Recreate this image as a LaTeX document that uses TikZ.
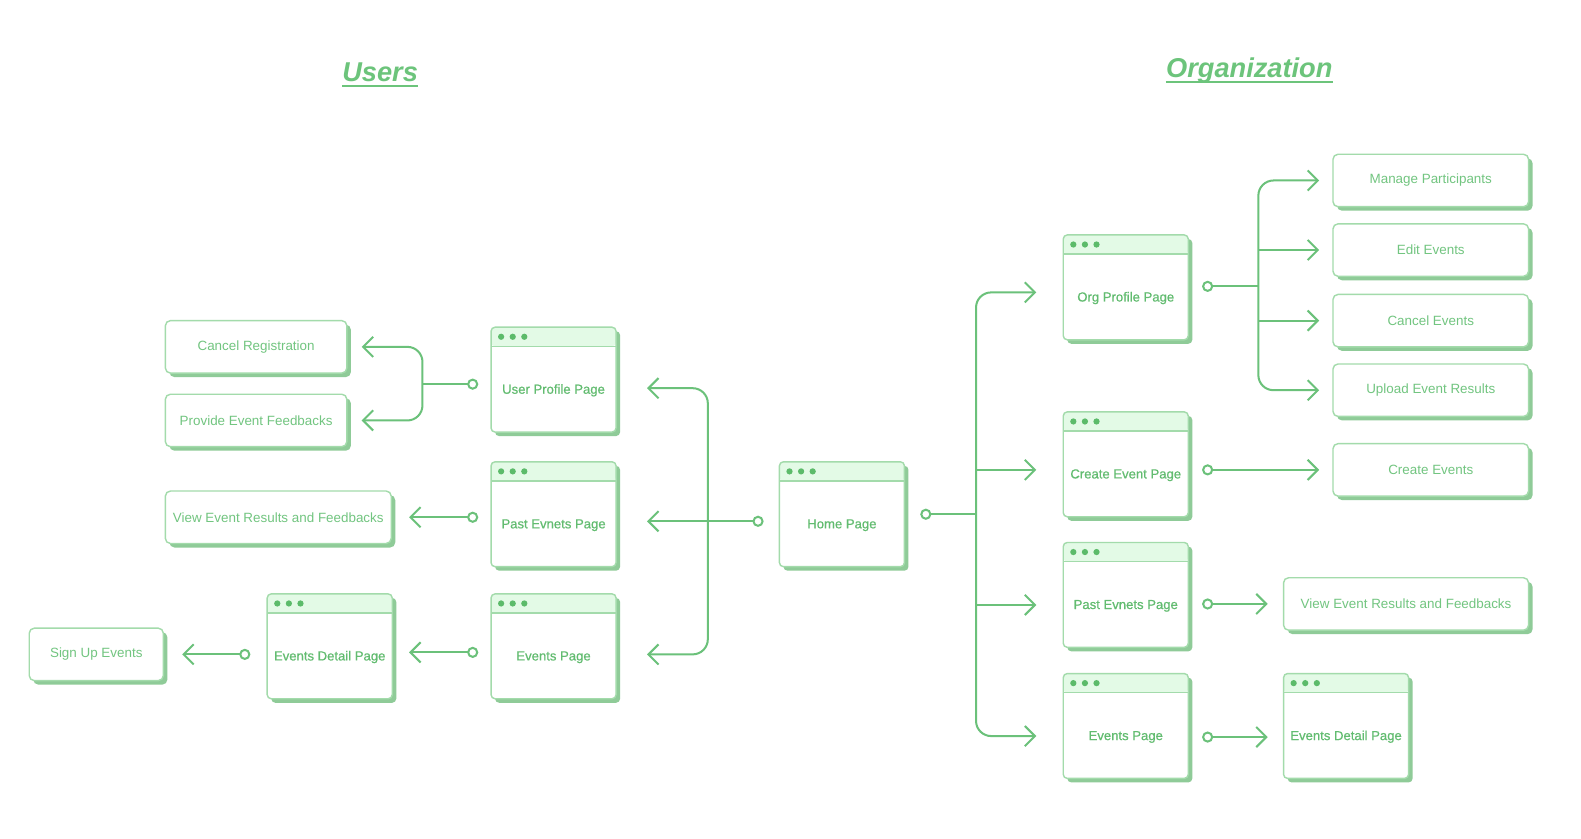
\documentclass[tikz,border=0pt]{standalone}
\usepackage{fontspec}
\setmainfont{Liberation Sans}
\newfontfamily\pagefont[FakeBold=0.6]{Liberation Sans}
\usetikzlibrary{arrows.meta,shadows}

\definecolor{lineg}{HTML}{6BC17A}
\definecolor{borderg}{HTML}{A3DBAB}
\definecolor{shadowg}{HTML}{8FCB98}
\definecolor{headg}{HTML}{E3FAE6}
\definecolor{textg}{HTML}{72C580}
\definecolor{pageg}{HTML}{62BC70}
\definecolor{dotg}{HTML}{5CBB6A}
\definecolor{titleg}{HTML}{6CC47B}

\tikzset{
  boxshadow/.style={drop shadow={shadow xshift=4pt,shadow yshift=-4pt,fill=shadowg,opacity=1}},
  act/.style={draw=borderg, line width=1.4pt, fill=white, rounded corners=5pt,
    minimum height=52pt, text=textg, font=\fontsize{13.3}{16}\selectfont, boxshadow},
  page/.style={draw=borderg, line width=1.4pt, fill=white, rounded corners=4pt,
    minimum width=124pt, minimum height=104pt, inner sep=0pt,
    text=pageg, font=\pagefont\fontsize{13}{15}\selectfont,
    text height=28pt, text depth=0pt, boxshadow,
    path picture={
      \fill[headg] (path picture bounding box.north west) rectangle
        ([yshift=-19pt]path picture bounding box.north east);
      \draw[borderg, line width=1.4pt] ([yshift=-19pt]path picture bounding box.north west)
        -- ([yshift=-19pt]path picture bounding box.north east);
      \foreach \dx in {10,21.5,33}
        \fill[dotg] ([xshift=\dx pt,yshift=-9.5pt]path picture bounding box.north west) circle (3.1pt);
    }},
  wire/.style={draw=lineg, line width=2pt},
  link/.style={wire, arrows={Circle[open,fill=white,length=11pt]-Straight Barb[length=10pt,width=20pt]}},
  fromlink/.style={wire, arrows={Circle[open,fill=white,length=11pt]-}},
  tolink/.style={wire, arrows={-Straight Barb[length=10pt,width=20pt]}},
  twolink/.style={wire, rounded corners=15pt,
    arrows={Straight Barb[length=10pt,width=20pt]-Straight Barb[length=10pt,width=20pt]}},
  heading/.style={inner sep=0pt, anchor=base, text=titleg,
    font=\fontsize{27}{32}\selectfont\bfseries\itshape},
  headline/.style={draw=titleg, line width=1.8pt},
}

\begin{document}
\begin{tikzpicture}[x=1pt,y=-1pt]

  \path[use as bounding box, fill=white] (0,0) rectangle (1568,832);

  % titles
  \node[heading] (users) at (377,81) {Users};
  \node[heading] (org)   at (1239,77) {Organization};
  \draw[headline] ([yshift=-4pt]users.base west) -- ([yshift=-4pt]users.base east);
  \draw[headline] ([yshift=-4pt]org.base west) -- ([yshift=-4pt]org.base east);

  % pages
  \node[page] (home)    at (835,510)    {Home Page};
  \node[page] (uprof)   at (549,376.5)  {User Profile Page};
  \node[page] (upast)   at (549,510)    {Past Evnets Page};
  \node[page] (uevents) at (549,641)    {Events Page};
  \node[page] (udetail) at (327,641)    {Events Detail Page};
  \node[page] (oprof)   at (1116.5,285) {Org Profile Page};
  \node[page] (ocreate) at (1116.5,460.5) {Create Event Page};
  \node[page] (opast)   at (1116.5,590) {Past Evnets Page};
  \node[page] (oevents) at (1116.5,720) {Events Page};
  \node[page] (odetail) at (1335,720)   {Events Detail Page};

  % actions
  \node[act, minimum width=180] (cancelreg) at (254,344)   {Cancel Registration};
  \node[act, minimum width=180] (feedback)  at (254,417)   {Provide Event Feedbacks};
  \node[act, minimum width=224] (uviewres)  at (276,513)   {View Event Results and Feedbacks};
  \node[act, minimum width=133] (signup)    at (95.5,649)  {Sign Up Events};
  \node[act, minimum width=194] (manage)    at (1419,179)  {Manage Participants};
  \node[act, minimum width=194] (edit)      at (1419,248)  {Edit Events};
  \node[act, minimum width=194] (cancelev)  at (1419,318)  {Cancel Events};
  \node[act, minimum width=194] (upload)    at (1419,387)  {Upload Event Results};
  \node[act, minimum width=194] (createev)  at (1419,466)  {Create Events};
  \node[act, minimum width=243] (oviewres)  at (1394.5,599) {View Event Results and Feedbacks};

  % junctions
  \coordinate (jl) at (702,517);
  \coordinate (jr) at (968,510);
  \coordinate (jp) at (419,381);
  \coordinate (jo) at (1248,284);

  % users side
  \draw[link] ([xshift=-15pt]home.west |- jl) -- ([xshift=30pt]upast.east |- jl);
  \draw[twolink] ([xshift=30pt,yshift=-8.5pt]uprof.east) -| (jl) |- ([xshift=30pt,yshift=-8pt]uevents.east);

  \draw[fromlink] ([xshift=-12pt]uprof.west |- jp) -- (jp);
  \draw[twolink] ([xshift=14pt]cancelreg.east) -| (jp) |- ([xshift=14pt]feedback.east);

  \draw[link] ([xshift=-12pt]upast.west |- uviewres) -- ([xshift=17pt]uviewres.east);
  \draw[link] ([xshift=-12pt,yshift=-6pt]uevents.west) -- ([xshift=16pt,yshift=-6pt]udetail.east);
  \draw[link] ([xshift=-16pt]udetail.west |- signup) -- ([xshift=18pt]signup.east);

  % organization side
  \draw[fromlink] ([xshift=15pt]home.east |- jr) -- (jr);
  \draw[twolink] ([xshift=-26pt,yshift=-5pt]oprof.west) -| (jr) |- ([xshift=-26pt,yshift=-10pt]oevents.west);
  \draw[tolink] ([yshift=-5.5pt]jr |- ocreate.west) -- ([xshift=-26pt,yshift=-5.5pt]ocreate.west);
  \draw[tolink] ([yshift=-10pt]jr |- opast.west) -- ([xshift=-26pt,yshift=-10pt]opast.west);

  \draw[fromlink] ([xshift=13pt]oprof.east |- jo) -- (jo);
  \draw[twolink] ([xshift=-13pt]manage.west) -| (jo) |- ([xshift=-13pt]upload.west);
  \draw[tolink] (jo |- edit.west) -- ([xshift=-13pt]edit.west);
  \draw[tolink] (jo |- cancelev.west) -- ([xshift=-13pt]cancelev.west);

  \draw[link] ([xshift=13pt]ocreate.east |- createev) -- ([xshift=-13pt]createev.west);
  \draw[link] ([xshift=13pt]opast.east |- oviewres) -- ([xshift=-15pt]oviewres.west);
  \draw[link] ([xshift=13pt,yshift=-11pt]oevents.east) -- ([xshift=-15pt,yshift=-11pt]odetail.west);

\end{tikzpicture}
\end{document}
